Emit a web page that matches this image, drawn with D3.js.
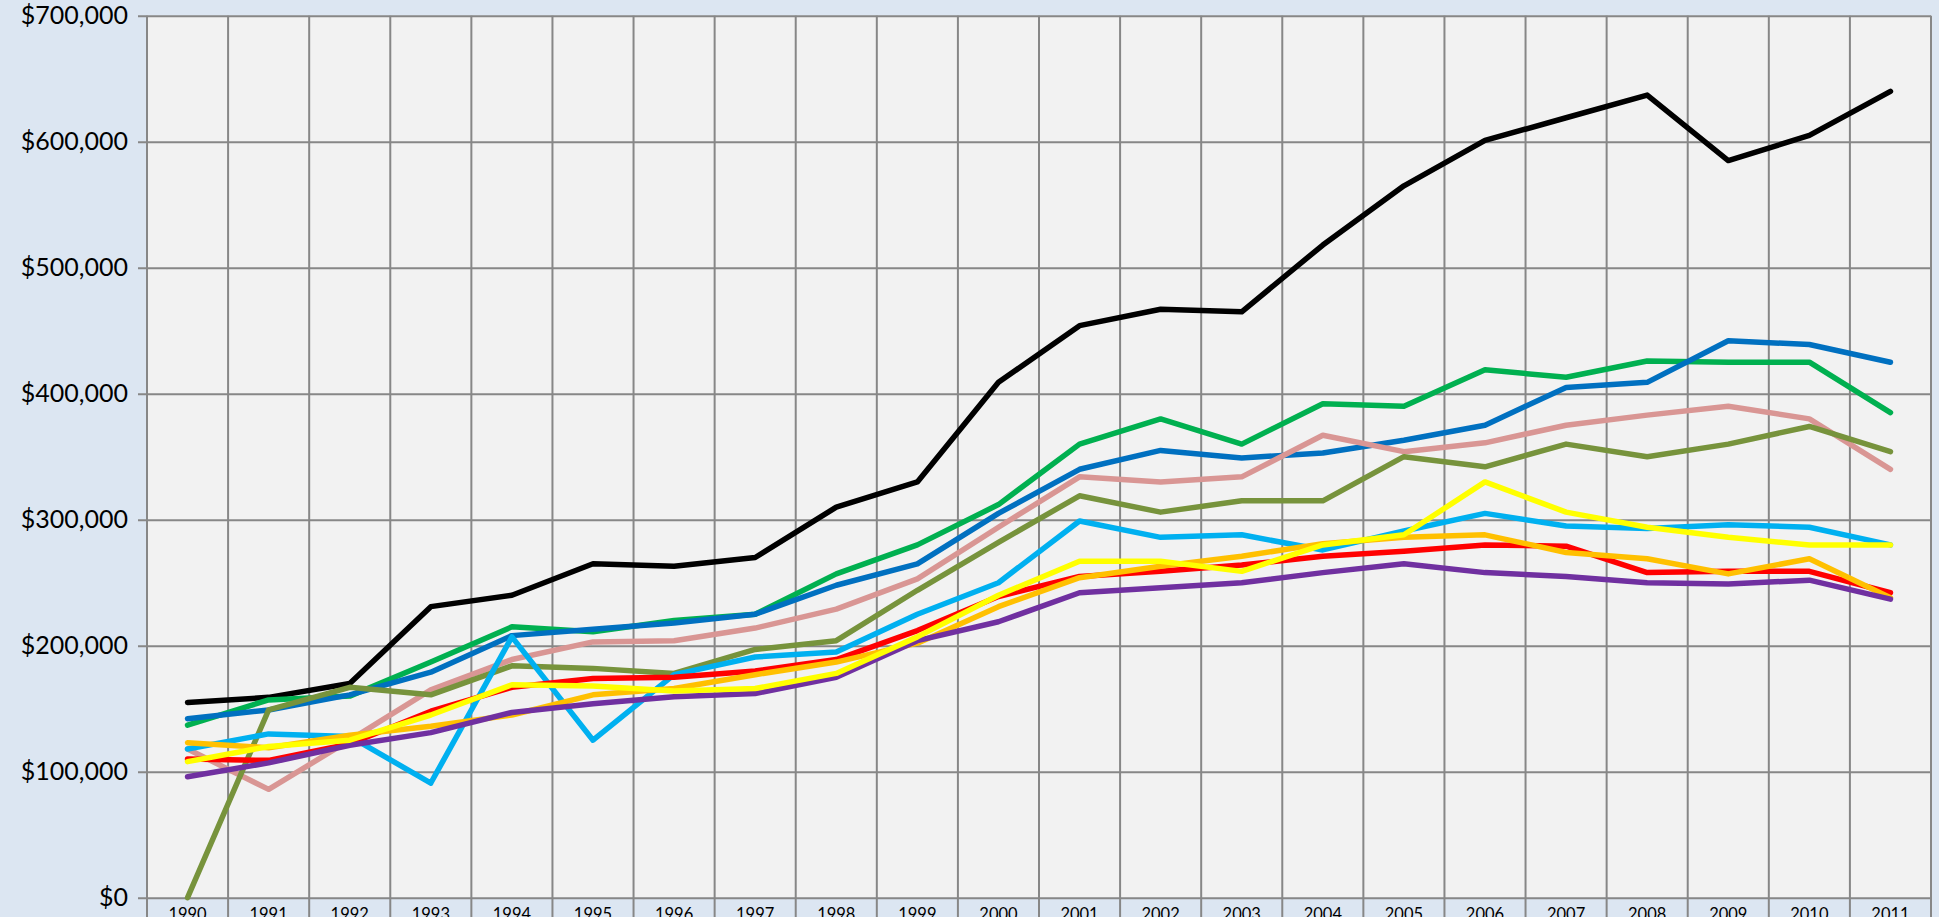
<!DOCTYPE html>
<html>
<head>
<meta charset="utf-8">
<script src="https://cdn.jsdelivr.net/npm/d3@7/dist/d3.min.js"></script>
<style>
  html, body { margin: 0; padding: 0; background: #dce6f2; overflow: hidden; }
  svg { display: block; }
  .ylab { font-family: Lato, "Open Sans", sans-serif; font-size: 25px; fill: #000; }
  .xlab { font-family: Lato, "Open Sans", sans-serif; font-size: 16.5px; fill: #000; }
</style>
</head>
<body>
<svg id="chart"></svg>
<script>
var years = [1990, 1991, 1992, 1993, 1994, 1995, 1996, 1997, 1998, 1999, 2000,
             2001, 2002, 2003, 2004, 2005, 2006, 2007, 2008, 2009, 2010, 2011];

var yTicks = [0, 100000, 200000, 300000, 400000, 500000, 600000, 700000];

// series values, one per year
var black = [155000, 159000, 170000, 231000, 240000, 265000, 263000, 270000, 310000, 330000, 409000,
             454000, 467000, 465000, 518000, 565000, 601000, 619000, 637000, 585000, 605000, 640000];
var green = [137000, 157000, 160000, 187000, 215000, 211000, 220000, 225000, 257000, 280000, 312000,
             360000, 380000, 360000, 392000, 390000, 419000, 413000, 426000, 425000, 425000, 385000];
var blue = [142000, 149000, 161000, 179000, 208000, 213000, 218000, 225000, 248000, 265000, 305000,
            340000, 355000, 349000, 353000, 363000, 375000, 405000, 409000, 442000, 439000, 425000];
var pink = [118000, 86000, 125000, 165000, 189000, 203000, 204000, 214000, 229000, 253000, 294000,
            334000, 330000, 334000, 367000, 354000, 361000, 375000, 383000, 390000, 380000, 340000];
var olive = [0, 149000, 167000, 161000, 184000, 182000, 178000, 197000, 204000, 244000, 282000,
             319000, 306000, 315000, 315000, 350000, 342000, 360000, 350000, 360000, 374000, 354000];
var lightBlue = [118000, 130000, 128000, 91000, 207000, 125000, 177000, 191000, 195000, 225000, 250000,
                 299000, 286000, 288000, 276000, 291000, 305000, 295000, 293000, 296000, 294000, 280000];
var red = [110000, 109000, 122000, 148000, 167000, 174000, 175000, 180000, 189000, 212000, 239000,
           255000, 259000, 264000, 271000, 275000, 280000, 279000, 258000, 259000, 259000, 242000];
var orange = [123000, 119000, 129000, 136000, 145000, 161000, 166000, 177000, 187000, 202000, 231000,
              254000, 263000, 271000, 281000, 286000, 288000, 274000, 269000, 257000, 269000, 238000];
var purple = [96000, 107000, 121000, 131000, 147000, 154000, 159500, 162000, 175000, 204000, 219000,
              242000, 246000, 250000, 258000, 265000, 258000, 255000, 250000, 249000, 252000, 237000];
var yellow = [108000, 120000, 125000, 145000, 169000, 168000, 164000, 166000, 178000, 207000, 240000,
              267000, 267000, 259000, 280000, 288000, 330000, 306000, 294000, 286000, 280000, 280000];

// drawing order, bottom to top
var series = [
  { values: black, color: "#000000" },
  { values: green, color: "#00b050" },
  { values: blue, color: "#0070c0" },
  { values: pink, color: "#d99694" },
  { values: olive, color: "#77933c" },
  { values: lightBlue, color: "#00b0f0" },
  { values: red, color: "#ff0000" },
  { values: orange, color: "#ffc000" },
  { values: purple, color: "#7030a0" },
  { values: yellow, color: "#ffff00" }
];

var width = 1939,
    height = 917,
    plotLeft = 147,
    plotRight = 1931,
    plotTop = 15.7,
    plotBottom = 897.7;

var svg = d3.select("#chart")
    .attr("width", width)
    .attr("height", height);

svg.append("rect")
   .attr("width", width)
   .attr("height", height)
   .attr("fill", "#dce6f2");

var x = d3.scaleBand().domain(years).range([plotLeft, plotRight]).padding(0);
var y = d3.scaleLinear().domain([0, 700000]).range([plotBottom, plotTop]);

// plot area
svg.append("rect")
   .attr("x", plotLeft)
   .attr("y", plotTop)
   .attr("width", plotRight - plotLeft)
   .attr("height", plotBottom - plotTop)
   .attr("fill", "#f2f2f2");

var fmt = d3.format("$,");

// horizontal gridlines + y axis
var yAxis = d3.axisLeft(y)
    .tickValues(yTicks)
    .tickSize(-(plotRight - plotLeft))
    .tickPadding(19)
    .tickFormat(function(d) { return fmt(d); });

var gy = svg.append("g")
    .attr("transform", "translate(" + plotLeft + ",0)")
    .call(yAxis);
gy.attr("font-family", null).attr("font-size", null);
gy.select(".domain").remove();
gy.selectAll(".tick line")
  .attr("x1", -9)
  .attr("stroke", "#878787")
  .attr("stroke-width", 2);
gy.selectAll(".tick text")
  .attr("class", "ylab");

// vertical gridlines at category boundaries, running into the label strip
var bounds = years.map(function(d) { return x(d); }).concat([plotRight]);
svg.append("g")
   .selectAll("line")
   .data(bounds)
   .join("line")
   .attr("x1", function(d) { return d; })
   .attr("x2", function(d) { return d; })
   .attr("y1", plotTop)
   .attr("y2", height)
   .attr("stroke", "#878787")
   .attr("stroke-width", 2);

// x labels (cut off at the bottom edge, as in the source)
svg.append("g")
   .selectAll("text")
   .data(years)
   .join("text")
   .attr("class", "xlab")
   .attr("x", function(d) { return x(d) + x.bandwidth() / 2; })
   .attr("y", 920)
   .attr("text-anchor", "middle")
   .text(function(d) { return d; });

var line = d3.line()
    .x(function(d, i) { return x(years[i]) + x.bandwidth() / 2; })
    .y(function(d) { return y(d); });

svg.append("g")
   .selectAll("path")
   .data(series)
   .join("path")
   .attr("d", function(s) { return line(s.values); })
   .attr("fill", "none")
   .attr("stroke", function(s) { return s.color; })
   .attr("stroke-width", 5.5)
   .attr("stroke-linejoin", "round")
   .attr("stroke-linecap", "round");
</script>
</body>
</html>
